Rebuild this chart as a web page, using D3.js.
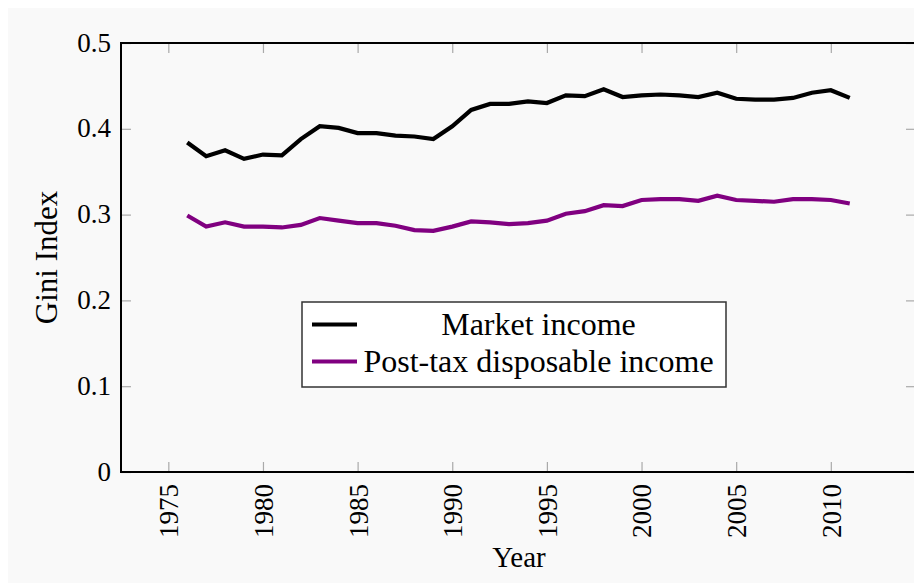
<!DOCTYPE html>
<html>
<head>
<meta charset="utf-8">
<script src="https://cdn.jsdelivr.net/npm/d3@7"></script>
<style>
  body { margin: 0; background: #ffffff; }
  svg text { font-family: 'Liberation Serif', 'Times New Roman', Times, serif; fill: #000; }
</style>
</head>
<body>
<svg id="chart"></svg>
<script>
var years = d3.range(1976, 2012)

var marketIncome = [0.384, 0.368, 0.375, 0.365, 0.370, 0.369, 0.388, 0.403, 0.401, 0.395,
    0.395, 0.392, 0.391, 0.388, 0.403, 0.422, 0.429, 0.429, 0.432, 0.430,
    0.439, 0.438, 0.446, 0.437, 0.439, 0.440, 0.439, 0.437, 0.442, 0.435,
    0.434, 0.434, 0.436, 0.442, 0.445, 0.436]

var disposableIncome = [0.299, 0.286, 0.291, 0.286, 0.286, 0.285, 0.288, 0.296, 0.293, 0.290,
    0.290, 0.287, 0.282, 0.281, 0.286, 0.292, 0.291, 0.289, 0.290, 0.293,
    0.301, 0.304, 0.311, 0.310, 0.317, 0.318, 0.318, 0.316, 0.322, 0.317,
    0.316, 0.315, 0.318, 0.318, 0.317, 0.313]

var seriesNames = ["Market income", "Post-tax disposable income"]
var seriesColors = ["#000000", "#800080"]
var xTicks = [1975, 1980, 1985, 1990, 1995, 2000, 2005, 2010]
var yTicks = [0, 0.1, 0.2, 0.3, 0.4, 0.5]

var serif = "'Liberation Serif', 'Times New Roman', Times, serif"

var dimensions = {
    width: 914,
    height: 583,
    margin: {
        top: 43,
        bottom: 111,
        right: -2,
        left: 121
    }
}

var svg = d3.select("#chart")
    .attr("width", dimensions.width)
    .attr("height", dimensions.height)
    .attr("font-family", serif)

// light backdrop
svg.append("rect")
    .attr("x", 8)
    .attr("y", 8)
    .attr("width", dimensions.width)
    .attr("height", dimensions.height)
    .attr("fill", "#f9f9f9")

var xScale = d3.scaleLinear()
    .domain([1972.5, 2014.5])
    .range([dimensions.margin.left, dimensions.width - dimensions.margin.right])

var yScale = d3.scaleLinear()
    .domain([0, 0.5])
    .range([dimensions.height - dimensions.margin.bottom, dimensions.margin.top])

var x0 = xScale.range()[0], x1 = xScale.range()[1]
var y0 = yScale.range()[0], y1 = yScale.range()[1]

var tickFmt = function (d) { return d === 0 ? "0" : d3.format(".1f")(d) }

// ticks on all four sides, pointing in
var xAxis = d3.axisBottom(xScale).tickValues(xTicks).tickFormat(d3.format("d"))
    .tickSizeInner(-10).tickSizeOuter(0).tickPadding(12)
var xAxisTop = d3.axisTop(xScale).tickValues(xTicks).tickFormat("")
    .tickSizeInner(-10).tickSizeOuter(0)
var yAxis = d3.axisLeft(yScale).tickValues(yTicks).tickFormat(tickFmt)
    .tickSizeInner(-10).tickSizeOuter(0).tickPadding(10)
var yAxisRight = d3.axisRight(yScale).tickValues(yTicks).tickFormat("")
    .tickSizeInner(-10).tickSizeOuter(0)

var gx = svg.append("g")
    .attr("class", "x-axis")
    .attr("transform", "translate(0," + y0 + ")")
    .call(xAxis)
    .attr("font-family", serif)
    .attr("font-size", 27)
gx.selectAll("text")
    .attr("text-anchor", "end")
    .attr("x", -12)
    .attr("y", 0)
    .attr("dy", "0.35em")
    .attr("transform", "rotate(-90)")

svg.append("g")
    .attr("transform", "translate(0," + y1 + ")")
    .call(xAxisTop)

var gy = svg.append("g")
    .attr("class", "y-axis")
    .attr("transform", "translate(" + x0 + ",0)")
    .call(yAxis)
    .attr("font-family", serif)
    .attr("font-size", 27)
gy.selectAll("text")
    .attr("dy", "0.3em")

svg.append("g")
    .attr("transform", "translate(" + x1 + ",0)")
    .call(yAxisRight)

svg.selectAll(".domain").remove()
svg.selectAll(".tick line").attr("stroke", "#aaaaaa").attr("stroke-width", 1.2)

// frame
svg.append("rect")
    .attr("x", x0)
    .attr("y", y1)
    .attr("width", x1 - x0)
    .attr("height", y0 - y1)
    .attr("fill", "none")
    .attr("stroke", "#000")
    .attr("stroke-width", 2)

// lines
var line = d3.line()
    .x((d, i) => xScale(years[i]))
    .y(d => yScale(d))

var allSeries = [marketIncome, disposableIncome]
allSeries.forEach(function (values, k) {
    svg.append("path")
        .datum(values)
        .attr("d", line)
        .attr("fill", "none")
        .attr("stroke", seriesColors[k])
        .attr("stroke-width", 4.2)
        .attr("stroke-linejoin", "miter")
})

// axis labels
svg.append("text")
    .attr("x", 519)
    .attr("y", 567)
    .attr("text-anchor", "middle")
    .attr("font-size", 29)
    .text("Year")

svg.append("text")
    .attr("transform", "translate(57," + ((y0 + y1) / 2) + ") rotate(-90)")
    .attr("text-anchor", "middle")
    .attr("font-size", 31)
    .text("Gini Index")

// legend
var legend = svg.append("g")
legend.append("rect")
    .attr("x", 302)
    .attr("y", 302)
    .attr("width", 424)
    .attr("height", 85)
    .attr("fill", "#ffffff")
    .attr("stroke", "#333")
    .attr("stroke-width", 1.5)

seriesNames.forEach(function (name, k) {
    var cy = 324.5 + k * 37
    legend.append("line")
        .attr("x1", 312)
        .attr("x2", 357)
        .attr("y1", cy)
        .attr("y2", cy)
        .attr("stroke", seriesColors[k])
        .attr("stroke-width", 4)
    legend.append("text")
        .attr("x", 538.5)
        .attr("y", cy + 10)
        .attr("text-anchor", "middle")
        .attr("font-size", 32)
        .text(name)
})
</script>
</body>
</html>
